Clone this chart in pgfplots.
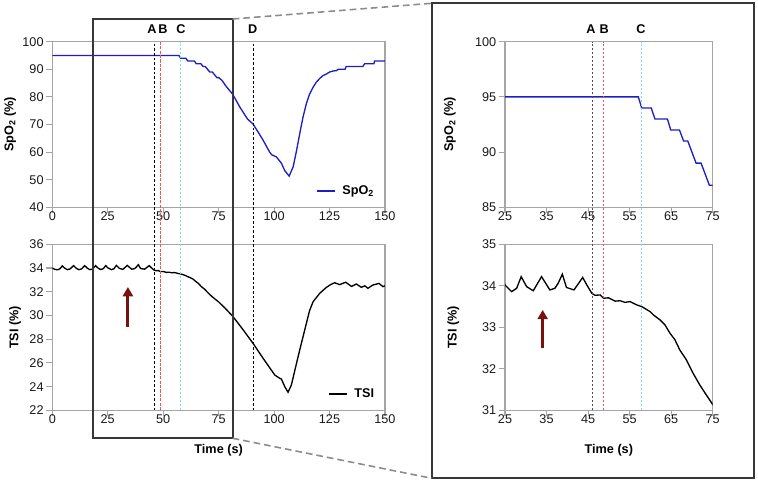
\documentclass[border=0pt]{standalone}
\usepackage{fontspec}
\setmainfont{Liberation Sans}
\usepackage{pgfplots}
\usepackage{pgfplotstable}
\pgfplotsset{compat=1.18}
\usetikzlibrary{arrows.meta}
\definecolor{spo}{RGB}{30,30,195}
\definecolor{axgray}{RGB}{165,165,165}
\definecolor{boxgray}{RGB}{55,55,55}
\definecolor{dashgray}{RGB}{140,140,140}
\definecolor{bred}{RGB}{240,85,85}
\definecolor{ccyan}{RGB}{120,220,240}
\definecolor{arrowred}{RGB}{120,18,15}

\pgfplotstableread{
x y
0 95
57.1 95
57.9 94
60.2 94
61.1 93
64.1 93
64.9 92
67 92
68 91
69 91
71 89
72.2 89
74.2 87
75 87
76.5 86
78.5 83.7
81.3 81
84.5 76.4
88 72
90.5 70.2
93 67
95 64.4
98 60
99 59
101 58.3
103.3 56
104.8 53.3
106.8 51.3
108.6 54.7
110 60
111.6 66.8
113 72.5
114.6 77.7
116 81
117.6 83.5
119 85.3
120.6 86.7
122 87.7
123.6 88.3
125 89
126.6 89.4
128 89.5
129 90
132 90
132.5 91
140 91
140.8 92
145 92
145.3 93
150 93
}\spotable

\pgfplotstableread{
x y
0 34.00
1.2 33.88
2.5 33.85
3.5 33.95
4.5 34.18
5.5 34.0
6.8 33.86
8.0 33.92
9.6 34.2
10.8 33.98
12.0 33.86
13.2 33.92
14.6 34.2
15.8 33.98
17.0 33.86
18.2 33.92
19.5 34.2
20.7 33.98
21.8 33.87
23.0 33.95
24.1 34.2
25 34.02
26.6 33.86
27.8 33.94
28.9 34.22
30.2 33.98
31.8 33.88
33.8 34.22
35.8 33.9
37.0 33.94
37.8 34.06
38.8 34.28
39.8 33.96
41.6 33.9
43.7 34.2
44.7 34.02
45.9 33.82
46.7 33.77
47.9 33.78
48.7 33.7
49.9 33.71
51.5 33.63
52.7 33.64
53.9 33.6
55.1 33.62
56.7 33.54
57.9 33.5
59.9 33.38
60.7 33.3
62.3 33.18
63.5 33.06
64.7 32.86
65.9 32.7
67.1 32.45
68.7 32.21
70.3 31.89
71.9 31.61
73.2 31.41
74.8 31.17
75 31.14
78 30.6
81.5 29.9
86 28.8
90.5 27.65
95 26.4
100.3 24.98
102.5 24.7
103.3 24.64
104.8 24.0
106.3 23.52
107.8 24.14
110.8 26.5
113.8 28.77
116 30.4
117.6 31.16
120.6 31.87
123.6 32.37
125.5 32.6
127.3 32.76
129.6 32.6
132.3 32.8
134.9 32.45
137.1 32.65
139.4 32.37
140.9 32.5
142.3 32.29
144.6 32.57
147.3 32.7
149.1 32.43
150 32.5
}\tsitable

\pgfplotsset{
 base/.style={
  scale only axis,
  clip mode=individual,
  axis line style={axgray, line width=0.8pt},
  tick pos=left, tick align=outside, major tick length=4.5pt,
  tick style={axgray, line width=0.8pt},
  tick label style={font=\fontsize{9.5}{11}\selectfont, text=black!90},
  /pgf/number format/assume math mode=true,
  xticklabel style={yshift=4.5pt},
  yticklabel style={xshift=1.5pt},
  label style={font=\bfseries\fontsize{9.5}{11}\selectfont},
  legend style={draw=none, fill=none, at={(1,0)}, anchor=south east, xshift=-3pt, yshift=4pt,
    column sep=3pt, font=\bfseries\fontsize{9.5}{11}\selectfont},
  legend image code/.code={\draw[#1] (0pt,0pt) -- (13.5pt,0pt);},
 },
}
\tikzset{lab/.style={font=\bfseries\fontsize{9.5}{11}\selectfont, anchor=center, yshift=9.5pt}}

\begin{document}
\begin{tikzpicture}
\useasboundingbox (0,0) rectangle (568.5pt,361.5pt);

% top left
\begin{axis}[base, at={(39.225pt,206.025pt)}, anchor=south west,
  width=249.5pt, height=124.2pt,
  xmin=0, xmax=150, ymin=40, ymax=100,
  xtick={0,25,...,150}, ytick={40,50,...,100},
  ylabel={SpO\textsubscript{2} (\%)},
  ylabel style={at={(axis description cs:-0.127,0.5)}, anchor=center}]
\addplot[spo, line width=1pt] table {\spotable};
\addlegendentry{SpO\textsubscript{2}}
\node[lab] at (axis cs:44.9,100) {A};
\node[lab] at (axis cs:49.9,100) {B};
\node[lab] at (axis cs:58,100) {C};
\node[lab] at (axis cs:90.4,100) {D};
\end{axis}

% bottom left (marker lines run up to the top of the upper axis: y=53.09 here)
\begin{axis}[base, at={(39.225pt,53.775pt)}, anchor=south west,
  width=249.5pt, height=124.5pt,
  xmin=0, xmax=150, ymin=22, ymax=36,
  xtick={0,25,...,150}, ytick={22,24,...,36},
  ylabel={TSI (\%)},
  ylabel style={at={(axis description cs:-0.112,0.5)}, anchor=center},
  xlabel={Time (s)},
  xlabel style={at={(axis description cs:0.5,-0.243)}, anchor=center}]
\addplot[black, line width=1pt] table {\tsitable};
\addlegendentry{TSI}
\draw[black, line width=0.6pt, dash pattern=on 2pt off 1.5pt] (axis cs:46,22) -- (axis cs:46,53.09);
\draw[bred, line width=1.1pt, dash pattern=on 2.5pt off 0.8pt] (axis cs:48.8,22) -- (axis cs:48.8,53.09);
\draw[ccyan, line width=0.8pt, dash pattern=on 2pt off 1pt] (axis cs:58,22) -- (axis cs:58,53.09);
\draw[black, line width=0.6pt, dash pattern=on 2pt off 1.5pt] (axis cs:90.5,22) -- (axis cs:90.5,53.09);
\draw[arrowred, line width=2.2pt, -{Triangle[width=7.5pt,length=7pt]}] (axis cs:34.1,29.05) -- (axis cs:34.1,32.4);
\end{axis}

% top right
\begin{axis}[base, at={(378.75pt,206.025pt)}, anchor=south west,
  width=155.775pt, height=124.2pt,
  xmin=25, xmax=75, ymin=85, ymax=100,
  xtick={25,35,...,75}, ytick={85,90,95,100},
  ylabel={SpO\textsubscript{2} (\%)},
  ylabel style={at={(axis description cs:-0.265,0.5)}, anchor=center}]
\addplot[spo, line width=1pt] table {\spotable};
\node[lab] at (axis cs:45.7,100) {A};
\node[lab] at (axis cs:48.9,100) {B};
\node[lab] at (axis cs:57.7,100) {C};
\end{axis}

% bottom right (top of upper axis: y=39.88 here)
\begin{axis}[base, at={(378.75pt,53.775pt)}, anchor=south west,
  width=155.775pt, height=124.5pt,
  xmin=25, xmax=75, ymin=31, ymax=35,
  xtick={25,35,...,75}, ytick={31,32,...,35},
  ylabel={TSI (\%)},
  ylabel style={at={(axis description cs:-0.249,0.5)}, anchor=center},
  xlabel={Time (s)},
  xlabel style={at={(axis description cs:0.5,-0.243)}, anchor=center}]
\addplot[black, line width=1pt] table {\tsitable};
\draw[black!70, line width=0.7pt, dash pattern=on 2pt off 1pt] (axis cs:46,31) -- (axis cs:46,39.88);
\draw[bred, line width=0.9pt, dash pattern=on 2pt off 1pt] (axis cs:48.8,31) -- (axis cs:48.8,39.88);
\draw[ccyan, line width=0.7pt, dash pattern=on 2pt off 1pt] (axis cs:57.9,31) -- (axis cs:57.9,39.88);
\draw[arrowred, line width=2.2pt, -{Triangle[width=7.5pt,length=7pt]}] (axis cs:34.07,32.49) -- (axis cs:34.07,33.42);
\end{axis}

% zoom boxes
\draw[boxgray, line width=1.5pt] (69.975pt,32.775pt) rectangle (174.525pt,347.25pt);
\draw[boxgray, line width=1.5pt] (323.775pt,2.775pt) rectangle (565.725pt,359.025pt);
\draw[dashgray, line width=1.2pt, dash pattern=on 5pt off 3pt] (174.525pt,347.25pt) -- (323.775pt,359.025pt);
\draw[dashgray, line width=1.2pt, dash pattern=on 5pt off 3pt] (174.525pt,32.775pt) -- (323.775pt,2.775pt);
\end{tikzpicture}
\end{document}
